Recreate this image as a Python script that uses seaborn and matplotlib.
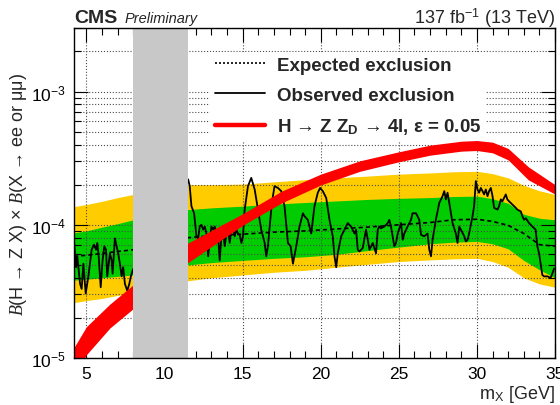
import numpy as np
import matplotlib
matplotlib.use("Agg")
import matplotlib.pyplot as plt
import seaborn as sns
from matplotlib.lines import Line2D
from matplotlib.ticker import LogLocator, MultipleLocator, NullFormatter

# --- expected limit with 68% / 95% bands (m_X in GeV) ---
band_x = [4.2, 5, 6, 7, 8, 11.5, 13, 15, 17, 19, 21, 23, 25, 27, 28.5, 30, 31, 32, 33, 34, 35]
exp_lim = [5.8e-5, 5.9e-5, 6.1e-5, 6.3e-5, 6.5e-5, 8.0e-5, 8.3e-5, 8.5e-5, 8.8e-5, 9.0e-5,
           9.3e-5, 9.6e-5, 1.0e-4, 1.04e-4, 1.09e-4, 1.10e-4, 1.06e-4, 9.9e-5, 8.6e-5, 7.1e-5, 6.9e-5]
one_sig_hi = [8.7e-5, 9.0e-5, 9.6e-5, 1.02e-4, 1.09e-4, 1.30e-4, 1.34e-4, 1.38e-4, 1.43e-4, 1.47e-4,
              1.51e-4, 1.55e-4, 1.58e-4, 1.60e-4, 1.63e-4, 1.64e-4, 1.57e-4, 1.45e-4, 1.20e-4, 1.12e-4, 1.09e-4]
one_sig_lo = [3.84e-5, 3.9e-5, 4.0e-5, 4.1e-5, 4.2e-5, 5.0e-5, 5.2e-5, 5.4e-5, 5.6e-5, 5.75e-5,
              6.0e-5, 6.4e-5, 6.8e-5, 7.2e-5, 7.4e-5, 7.5e-5, 7.2e-5, 6.6e-5, 5.4e-5, 4.6e-5, 4.0e-5]
two_sig_hi = [1.37e-4, 1.42e-4, 1.50e-4, 1.60e-4, 1.69e-4, 2.0e-4, 2.0e-4, 2.02e-4, 2.10e-4, 2.18e-4,
              2.25e-4, 2.32e-4, 2.40e-4, 2.45e-4, 2.50e-4, 2.52e-4, 2.42e-4, 2.25e-4, 1.98e-4, 1.80e-4, 1.69e-4]
two_sig_lo = [2.6e-5, 2.7e-5, 2.8e-5, 2.95e-5, 3.06e-5, 3.8e-5, 4.0e-5, 4.2e-5, 4.4e-5, 4.55e-5,
              4.8e-5, 5.05e-5, 5.3e-5, 5.45e-5, 5.55e-5, 5.6e-5, 5.3e-5, 4.8e-5, 4.0e-5, 3.6e-5, 3.4e-5]

# --- observed limit ---
obs_x = [4.20, 4.33, 4.41, 4.59, 4.69, 4.80, 4.95, 5.12, 5.33, 5.48, 5.61, 5.69, 5.78, 5.91, 6.03,
         6.14, 6.25, 6.33, 6.42, 6.50, 6.61, 6.67, 6.82, 6.93, 7.03, 7.14, 7.25, 7.35, 7.46, 7.61,
         7.74, 7.84, 7.97,
         11.51, 11.61, 11.72, 11.89, 12.04, 12.15, 12.25, 12.36, 12.47, 12.57, 12.68, 12.79, 12.89,
         13.00, 13.10, 13.21, 13.32, 13.42, 13.53, 13.64, 13.74, 13.85, 13.96, 14.06, 14.17, 14.28,
         14.38, 14.49, 14.60, 14.70, 14.81, 14.92, 15.02, 15.13, 15.34, 15.55, 15.77, 15.98, 16.19,
         16.41, 16.51, 16.62, 16.73, 16.87, 17.04, 17.26, 17.47, 17.68, 17.90, 18.07, 18.22, 18.43,
         18.64, 18.86, 18.96, 19.17, 19.39, 19.60, 19.81, 19.96, 20.13, 20.35, 20.56, 20.77, 20.88,
         20.99, 21.09, 21.31, 21.52, 21.73, 21.94, 22.16, 22.26, 22.37, 22.48, 22.69, 22.90, 23.01,
         23.12, 23.33, 23.54, 23.65, 23.75, 23.86, 24.07, 24.29, 24.39, 24.50, 24.71, 24.82, 24.93,
         25.14, 25.25, 25.35, 25.56, 25.78, 25.88, 26.10, 26.31, 26.42, 26.63, 26.84,
         26.95, 27.06, 27.16, 27.37, 27.59, 27.80, 27.91, 28.01, 28.12, 28.23, 28.44, 28.65, 28.76,
         28.87, 28.97, 29.19, 29.29, 29.40, 29.50, 29.72, 29.82, 29.93, 30.04, 30.14, 30.25, 30.36,
         30.46, 30.57, 30.68, 30.78, 30.89, 31.00, 31.10, 31.32, 31.42, 31.53, 31.63, 31.74, 31.85,
         31.95, 32.06, 32.27, 32.49, 32.59, 32.81, 32.91, 33.02, 33.13, 33.34, 33.55, 33.76, 33.87,
         33.98, 34.08, 34.19, 34.30, 34.51, 34.72, 34.83, 34.94]
obs_lim = [7.5e-5, 4.8e-5, 5.8e-5, 3.6e-5, 3.3e-5, 5.1e-5, 3.05e-5, 4.1e-5, 6.5e-5, 7.1e-5, 6.5e-5,
           7.3e-5, 5.8e-5, 3.4e-5, 5.4e-5, 6.9e-5, 6.5e-5, 4.1e-5, 5.1e-5, 6.1e-5, 5.4e-5, 4.3e-5,
           7.9e-5, 6.9e-5, 6.1e-5, 5.1e-5, 4.1e-5, 4.8e-5, 3.6e-5, 3.2e-5, 3.6e-5, 4.1e-5, 4.6e-5,
           2.19e-4, 1.95e-4, 1.38e-4, 1.22e-4, 8.2e-5, 7.9e-5, 9.7e-5, 1.0e-4, 9.2e-5, 9.7e-5, 8.6e-5,
           5.8e-5, 7.7e-5, 9.7e-5, 9.2e-5, 9.7e-5, 8.4e-5, 8.6e-5, 5.4e-5, 8.2e-5, 9.2e-5, 6.9e-5,
           8.6e-5, 9.7e-5, 7.3e-5, 9.2e-5, 9.7e-5, 8.2e-5, 9.2e-5, 8.6e-5, 8.4e-5, 7.3e-5, 8.2e-5,
           1.30e-4, 1.95e-4, 2.25e-4, 1.84e-4, 1.30e-4, 9.2e-5, 7.3e-5, 5.8e-5, 6.9e-5, 9.7e-5,
           1.46e-4, 1.95e-4, 1.89e-4, 1.79e-4, 1.38e-4, 7.3e-5, 6.9e-5, 5.1e-5, 6.9e-5, 9.7e-5,
           1.22e-4, 1.16e-4, 1.09e-4, 8.6e-5, 1.38e-4, 1.74e-4, 1.89e-4, 1.79e-4, 1.59e-4, 1.09e-4,
           8.2e-5, 5.8e-5, 4.8e-5, 6.1e-5, 8.2e-5, 9.2e-5, 1.03e-4, 9.7e-5, 8.6e-5, 9.2e-5, 6.5e-5,
           6.3e-5, 6.7e-5, 9.2e-5, 7.7e-5, 6.5e-5, 7.3e-5, 6.1e-5, 9.2e-5, 9.7e-5, 9.4e-5, 9.7e-5,
           1.03e-4, 1.09e-4, 9.7e-5, 6.9e-5, 7.3e-5, 8.6e-5, 1.03e-4, 7.7e-5, 8.6e-5, 9.7e-5,
           1.09e-4, 1.22e-4, 1.22e-4, 1.09e-4, 8.4e-5, 8.2e-5, 8.6e-5,
           6.5e-5, 5.8e-5, 7.7e-5, 1.09e-4, 1.46e-4, 1.64e-4, 1.79e-4, 1.55e-4, 1.74e-4, 1.46e-4,
           1.03e-4, 8.6e-5, 7.3e-5, 9.7e-5, 9.2e-5, 8.2e-5, 7.5e-5, 7.7e-5, 8.6e-5, 1.16e-4, 1.38e-4,
           2.13e-4, 1.84e-4, 1.74e-4, 1.89e-4, 1.79e-4, 1.69e-4, 1.84e-4, 1.64e-4, 1.79e-4, 1.89e-4,
           1.64e-4, 1.34e-4, 1.30e-4, 1.38e-4, 1.55e-4, 1.50e-4, 1.59e-4, 1.69e-4, 1.55e-4, 1.50e-4,
           1.42e-4, 1.34e-4, 1.30e-4, 1.26e-4, 1.16e-4, 1.09e-4, 1.12e-4, 1.03e-4, 9.7e-5, 9.2e-5,
           6.9e-5, 6.1e-5, 5.1e-5, 4.2e-5, 4.1e-5, 4.1e-5, 4.0e-5, 4.3e-5, 4.7e-5]

# --- signal prediction band, H -> Z Z_D -> 4l, eps = 0.05 ---
th_x = [4.2, 5, 6.5, 8, 11.5, 15, 17.5, 20, 22.5, 25, 27, 29, 30, 31, 32, 33.3, 35]
th_lo = [7.4e-6, 1.06e-5, 1.68e-5, 2.35e-5, 5.2e-5, 9.9e-5, 1.46e-4, 1.99e-4, 2.52e-4, 2.97e-4,
         3.33e-4, 3.57e-4, 3.61e-4, 3.47e-4, 3.07e-4, 2.17e-4, 1.70e-4]
th_hi = [1.20e-5, 1.72e-5, 2.54e-5, 3.55e-5, 7.3e-5, 1.21e-4, 1.79e-4, 2.40e-4, 3.02e-4, 3.53e-4,
         3.96e-4, 4.24e-4, 4.29e-4, 4.17e-4, 3.74e-4, 2.72e-4, 2.00e-4]

# Upsilon mass window excluded from the search
veto_lo, veto_hi = 8.0, 11.5

sns.set_style("ticks")
plt.rcParams.update({
    "font.family": ["Liberation Sans", "DejaVu Sans"],
    "mathtext.fontset": "custom",
    "mathtext.rm": "Liberation Sans",
    "mathtext.bf": "Liberation Sans:bold",
    "mathtext.it": "Liberation Serif:italic",
    "axes.edgecolor": "black",
    "axes.linewidth": 1.0,
})

fig = plt.figure(figsize=(5.6, 4.06), dpi=100)
ax = fig.add_axes([74 / 560, 1 - 359 / 406, (555 - 74) / 560, (359 - 29) / 406])
ax.set_yscale("log")

ax.fill_between(band_x, two_sig_lo, two_sig_hi, color="#ffcc00", lw=0, zorder=1)
ax.fill_between(band_x, one_sig_lo, one_sig_hi, color="#00cc00", lw=0, zorder=1)
sns.lineplot(x=band_x, y=exp_lim, ax=ax, color="black", lw=1.2, linestyle=(0, (2.5, 1.8)),
             estimator=None, sort=False, zorder=2)
sns.lineplot(x=obs_x, y=obs_lim, ax=ax, color="black", lw=1.3,
             estimator=None, sort=False, zorder=2)
ax.fill_between(th_x, th_lo, th_hi, color="#ff0000", lw=0, zorder=2.1)
ax.axvspan(veto_lo, veto_hi, color="#c8c8c8", lw=0, zorder=2.4)

ax.set_xlim(4.2, 35)
ax.set_ylim(1e-5, 3e-3)
ax.xaxis.set_major_locator(MultipleLocator(5))
ax.xaxis.set_minor_locator(MultipleLocator(1))
ax.yaxis.set_major_locator(LogLocator(base=10, numticks=10))
ax.yaxis.set_minor_locator(LogLocator(base=10, subs=np.arange(2, 10), numticks=40))
ax.yaxis.set_minor_formatter(NullFormatter())
ax.tick_params(which="both", direction="in", top=True, right=True, width=0.8,
               labelsize=12.5, colors="black")
ax.tick_params(which="major", length=10)
ax.tick_params(which="minor", length=5)
ax.tick_params(axis="x", pad=6)
ax.tick_params(axis="y", pad=6)

ax.set_axisbelow("line")
ax.grid(True, which="major", axis="x", ls=":", color="0.3", lw=0.8)
ax.grid(True, which="both", axis="y", ls=":", color="0.3", lw=0.8)

ax.set_xlabel(r"m$_\mathregular{X}$ [GeV]", fontsize=13, loc="right", labelpad=1)
ax.set_ylabel(r"$\mathit{B}$(H → Z X) × $\mathit{B}$(X → ee or μμ)", fontsize=13, labelpad=1)

fig.text(74 / 560, 1 - 23 / 406, "CMS", fontsize=14, fontweight="bold", ha="left", va="baseline")
fig.text(125 / 560, 1 - 23 / 406, "Preliminary", fontsize=10.5, style="italic", ha="left", va="baseline")
fig.text(555 / 560, 1 - 24 / 406, r"137 fb$^\mathregular{-1}$ (13 TeV)", fontsize=13,
         ha="right", va="baseline")

handles = [
    Line2D([], [], color="black", lw=1.2, linestyle=(0, (1.2, 1.2))),
    Line2D([], [], color="black", lw=1.3),
    Line2D([], [], color="#ff0000", lw=3.2),
]
labels = ["Expected exclusion", "Observed exclusion",
          r"H → Z Z$_\mathbf{D}$ → 4l, ε = 0.05"]
leg = ax.legend(handles, labels, loc="upper left", bbox_to_anchor=(210 / 560, 1 - 53 / 406),
                bbox_transform=fig.transFigure, borderaxespad=0, borderpad=0.25,
                frameon=True, fancybox=False, framealpha=1, facecolor="white",
                edgecolor="none", handlelength=2.7, handletextpad=0.6,
                labelspacing=0.68, prop={"weight": "bold", "size": 13.5})
leg.set_zorder(5)

fig.savefig("out.png", dpi=100)
